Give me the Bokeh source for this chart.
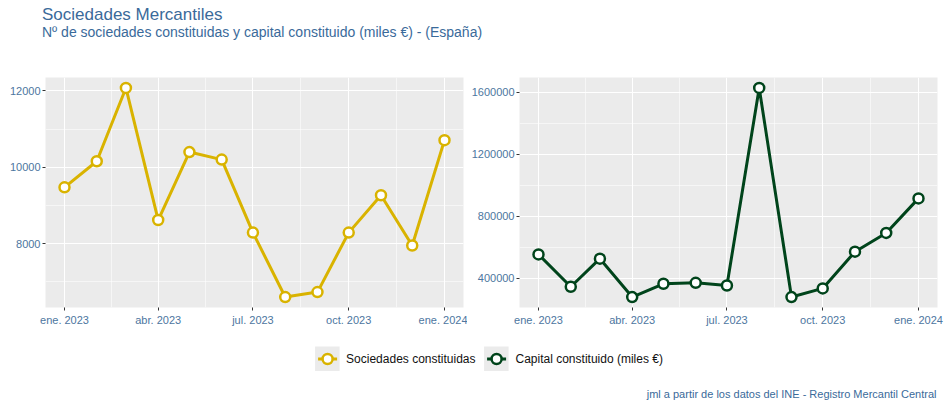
import pandas as pd
from bokeh.plotting import figure
from bokeh.layouts import column, row
from bokeh.models import (ColumnDataSource, Range1d, FixedTicker, SingleIntervalTicker,
                          BasicTickFormatter, Legend, LegendItem, Label, Div)
from bokeh.embed import file_html
from bokeh.resources import INLINE

# ---------------- data ----------------
months = ["2023-01", "2023-02", "2023-03", "2023-04", "2023-05", "2023-06", "2023-07",
          "2023-08", "2023-09", "2023-10", "2023-11", "2023-12", "2024-01"]
sociedades = [9473, 10156, 12078, 8616, 10397, 10200, 8286, 6597, 6727, 8286, 9265, 7948, 10710]
capital = [553600, 345000, 526000, 278400, 364000, 370000, 353000, 1627500, 278400, 334000,
           571000, 692000, 915000]
tick_months = ["2023-01", "2023-04", "2023-07", "2023-10", "2024-01"]
tick_labels = ["ene. 2023", "abr. 2023", "jul. 2023", "oct. 2023", "ene. 2024"]
series_names = ["Sociedades constituidas", "Capital constituido (miles €)"]
title_text = "Sociedades Mercantiles"
subtitle_text = "Nº de sociedades constituidas y capital constituido (miles €) - (España)"
caption_text = "jml a partir de los datos del INE - Registro Mercantil Central"

# ---------------- style ----------------
GOLD = "#D9B300"
GREEN = "#00441B"
PANEL = "#EBEBEB"
TITLE_C = "#3A6A9A"
TICK_C = "#4D76A0"
FONT = "Liberation Sans"


def to_ms(lst):
    return [pd.Timestamp(m + "-01").value // 10**6 for m in lst]


x_ms = to_ms(months)
t_ms = to_ms(tick_months)
minor_ms = [(a + b) / 2 for a, b in zip(t_ms[:-1], t_ms[1:])]


def panel(y, color, width, mbl, mbr, interval):
    lo, hi = min(y), max(y)
    pad = (hi - lo) * 0.05
    xlo, xhi = min(x_ms), max(x_ms)
    xpad = (xhi - xlo) * 0.05
    p = figure(width=width, height=276, output_backend="svg", toolbar_location=None,
               x_range=Range1d(xlo - xpad, xhi + xpad), y_range=Range1d(lo - pad, hi + pad),
               min_border_left=mbl, min_border_right=mbr, min_border_top=21, min_border_bottom=25)
    p.background_fill_color = PANEL
    p.border_fill_color = "white"
    p.outline_line_color = None
    src = ColumnDataSource(dict(x=x_ms, y=y))
    p.line("x", "y", source=src, line_color=color, line_width=3)
    p.scatter("x", "y", source=src, size=10, fill_color="white", line_color=color, line_width=2.5)

    p.xaxis.ticker = FixedTicker(ticks=t_ms, minor_ticks=minor_ms)
    p.xaxis.major_label_overrides = {t: l for t, l in zip(t_ms, tick_labels)}
    p.yaxis.ticker = SingleIntervalTicker(interval=interval, num_minor_ticks=2)
    p.yaxis.formatter = BasicTickFormatter(use_scientific=False)
    for ax in (p.xaxis[0], p.yaxis[0]):
        ax.axis_line_color = None
        ax.major_tick_line_color = "#333333"
        ax.major_tick_in = 0
        ax.major_tick_out = 3
        ax.minor_tick_line_color = None
        ax.major_label_text_font = FONT
        ax.major_label_text_font_size = "11px"
        ax.major_label_text_color = TICK_C
    p.xaxis.major_label_standoff = 2
    p.yaxis.major_label_standoff = 1
    p.grid.grid_line_color = "white"
    p.grid.grid_line_width = 1.1
    p.grid.minor_grid_line_color = "white"
    p.grid.minor_grid_line_width = 0.55
    return p


p1 = panel(sociedades, GOLD, 467, 45, 4, 2000)
p2 = panel(capital, GREEN, 477, 52, 7, 400000)

# ---------------- header ----------------
header_html = (
    f'<div style="position:relative;width:944px;height:56px;font-family:\'{FONT}\';'
    f'color:{TITLE_C};">'
    f'<div style="position:absolute;left:42px;top:5px;font-size:17px;line-height:20px;'
    f'white-space:nowrap;">{title_text}</div>'
    f'<div style="position:absolute;left:42px;top:23px;font-size:14px;line-height:18px;'
    f'white-space:nowrap;">{subtitle_text}</div></div>'
)
header = Div(text=header_html, width=944, height=56, margin=0)

# ---------------- footer (legend + caption) ----------------
footer = figure(width=944, height=72, output_backend="svg", toolbar_location=None,
                x_axis_location=None, y_axis_location=None, min_border=0, min_border_left=33,
                x_range=Range1d(0, 1), y_range=Range1d(0, 1))
footer.outline_line_color = None
footer.grid.visible = False
# one point far outside the visible range, so only the legend keys are drawn
key_src = ColumnDataSource(dict(x=[-10], y=[-10]))
items = []
for name, color in zip(series_names, [GOLD, GREEN]):
    bg = footer.line("x", "y", source=key_src, line_color=PANEL, line_width=25)
    ln = footer.line("x", "y", source=key_src, line_color=color, line_width=3,
                     line_dash="0 3 19 3")
    sc = footer.scatter("x", "y", source=key_src, size=10, fill_color="white",
                        line_color=color, line_width=2.5)
    items.append(LegendItem(label=name, renderers=[bg, ln, sc]))
legend = Legend(items=items, orientation="horizontal", location="top_center",
                glyph_width=25, glyph_height=25, label_standoff=7, spacing=8,
                padding=5, margin=14, border_line_color=None, background_fill_alpha=0,
                label_text_font=FONT, label_text_font_size="12px", label_text_color="#111111")
footer.add_layout(legend, "center")
footer.add_layout(Label(x=903, y=11, x_units="screen", y_units="screen", text=caption_text,
                        text_font=FONT, text_font_size="11px", text_color=TITLE_C,
                        text_baseline="alphabetic", text_align="right"))

layout = column(header, row(p1, p2), footer)
open("out.html", "w").write(file_html(layout, INLINE))
